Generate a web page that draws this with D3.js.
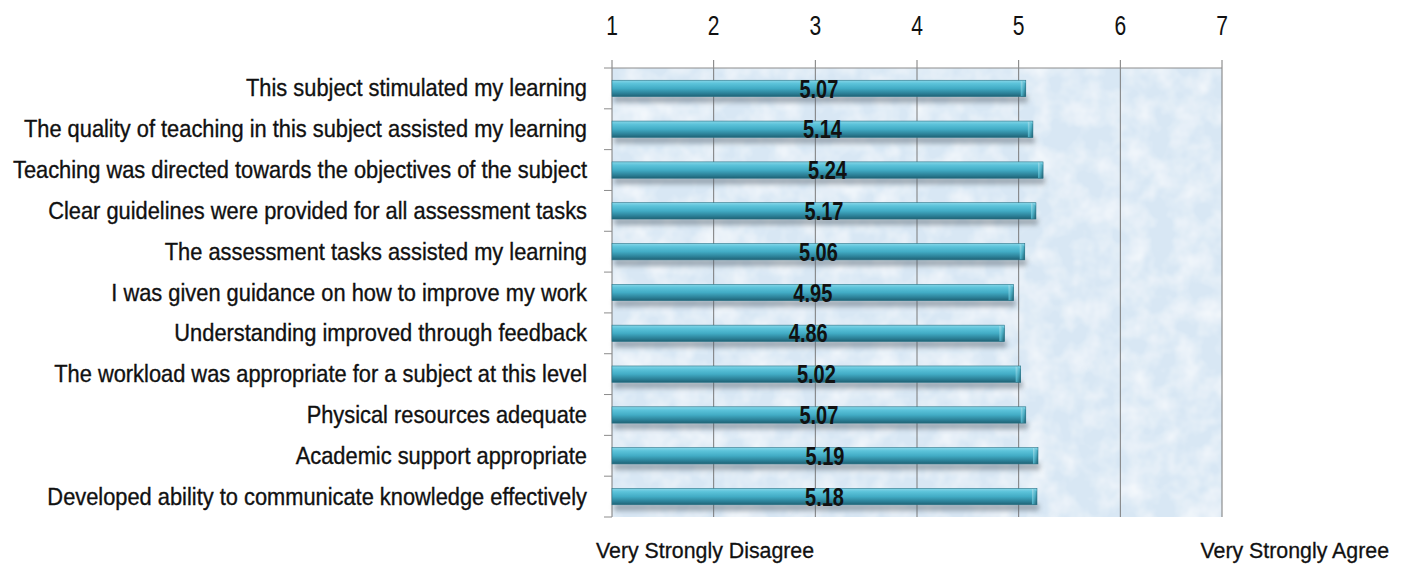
<!DOCTYPE html>
<html><head><meta charset="utf-8">
<script src="https://cdn.jsdelivr.net/npm/d3@7"></script>
<style>
body{margin:0;background:#fff;}
svg{display:block;}
text{font-family:"Liberation Sans Narrow","Arial Narrow","Liberation Sans",sans-serif;}
</style></head><body>
<svg id="c" width="1405" height="566"></svg>
<script>
const categories = [
  "This subject stimulated my learning",
  "The quality of teaching in this subject assisted my learning",
  "Teaching was directed towards the objectives of the subject",
  "Clear guidelines were provided for all assessment tasks",
  "The assessment tasks assisted my learning",
  "I was given guidance on how to improve my work",
  "Understanding improved through feedback",
  "The workload was appropriate for a subject at this level",
  "Physical resources adequate",
  "Academic support appropriate",
  "Developed ability to communicate knowledge effectively"
];
const values = [5.07, 5.14, 5.24, 5.17, 5.06, 4.95, 4.86, 5.02, 5.07, 5.19, 5.18];
const tickValues = [1, 2, 3, 4, 5, 6, 7];
const endLabels = ["Very Strongly Disagree", "Very Strongly Agree"];

const svg = d3.select("#c");
const L = 612, R = 1222, T = 68, B = 517;
const x = d3.scaleLinear().domain([1, 7]).range([L, R]);
const y = d3.scaleBand().domain(categories).range([T, B]).paddingInner(0.6).paddingOuter(0.3);

const defs = svg.append("defs");
const f = defs.append("filter").attr("id","tex").attr("x",0).attr("y",0).attr("width","100%").attr("height","100%");
f.append("feTurbulence").attr("type","fractalNoise").attr("baseFrequency","0.04").attr("numOctaves",3).attr("seed",4).attr("result","n");
f.append("feColorMatrix").attr("in","n").attr("type","matrix")
 .attr("values","0 0 0 0 1  0 0 0 0 1  0 0 0 0 1  1.2 0 0 0 -0.42").attr("result","w");
f.append("feComposite").attr("in","w").attr("in2","SourceGraphic").attr("operator","atop");

const g = defs.append("linearGradient").attr("id","bar").attr("x1",0).attr("y1",0).attr("x2",0).attr("y2",1);
[[0,"#86d6e8"],[0.2,"#5cc3da"],[0.5,"#42acc5"],[0.8,"#2c8198"],[1,"#1f6275"]].forEach(d=>g.append("stop").attr("offset",d[0]).attr("stop-color",d[1]));
const ge = defs.append("linearGradient").attr("id","bend").attr("x1",0).attr("y1",0).attr("x2",1).attr("y2",1);
[[0,"#a6e2ef"],[0.5,"#4fb2c8"],[1,"#1c5a6b"]].forEach(d=>ge.append("stop").attr("offset",d[0]).attr("stop-color",d[1]));
const sh = defs.append("filter").attr("id","sh").attr("x","-5%").attr("y","-50%").attr("width","110%").attr("height","250%");
sh.append("feGaussianBlur").attr("stdDeviation",2.5);

svg.append("rect").attr("x",L).attr("y",T).attr("width",R-L).attr("height",B-T).attr("fill","#d8e7f4").attr("filter","url(#tex)");

svg.append("g").selectAll("line").data(tickValues).join("line")
  .attr("x1",d=>x(d)).attr("x2",d=>x(d)).attr("y1",T-8).attr("y2",B)
  .attr("stroke","#7a7a7a").attr("stroke-width",1);
svg.append("line").attr("x1",L-8).attr("x2",R).attr("y1",T).attr("y2",T).attr("stroke","#8c8c8c");

const bounds = d3.range(1, categories.length+1).map(i=>T+(B-T)*i/categories.length);
svg.append("g").selectAll("line").data(bounds).join("line")
  .attr("x1",L-8).attr("x2",L).attr("y1",d=>d).attr("y2",d=>d).attr("stroke","#8c8c8c");

svg.append("g").selectAll("text").data(tickValues).join("text")
  .attr("transform",d=>`translate(${x(d)},35) scale(0.78,1)`).attr("text-anchor","middle")
  .attr("font-size",27).attr("fill","#111").text(d=>d);

const bh = y.bandwidth();
const bars = svg.append("g").selectAll("g").data(categories).join("g");
bars.append("rect").attr("x",L+2).attr("y",d=>y(d)+bh-1).attr("width",(d,i)=>x(values[i])-L).attr("height",7)
  .attr("fill","#56636e").attr("opacity",0.5).attr("filter","url(#sh)");
bars.append("rect").attr("x",L).attr("y",d=>y(d)).attr("width",(d,i)=>x(values[i])-L).attr("height",bh)
  .attr("fill","url(#bar)");
bars.append("path").attr("d",(d,i)=>{
  const xe=x(values[i]), y0=y(d);
  return `M${xe-5},${y0}L${xe},${y0+3}L${xe},${y0+bh}L${xe-5},${y0+bh}Z`;
}).attr("fill","url(#bend)");
bars.append("rect").attr("x",L).attr("y",d=>y(d)).attr("width",(d,i)=>x(values[i])-L).attr("height",bh)
  .attr("fill","none").attr("stroke","#2a7387").attr("stroke-width",0.6);

bars.append("text")
  .attr("transform",(d,i)=>`translate(${(L+x(values[i]))/2},${y(d)+bh+1}) scale(0.8,1)`)
  .attr("text-anchor","middle").attr("font-size",25).attr("font-weight","bold").attr("fill","#111")
  .text((d,i)=>values[i].toFixed(2));

svg.append("g").selectAll("text").data(categories).join("text")
  .attr("transform",d=>`translate(587,${y(d)+bh/2+8}) scale(0.91,1)`).attr("text-anchor","end")
  .attr("font-size",24).attr("fill","#111").attr("stroke","#111").attr("stroke-width",0.35).text(d=>d);

svg.append("text").attr("transform","translate(596,558) scale(0.97,1)").attr("font-size",22).attr("fill","#111").attr("stroke","#111").attr("stroke-width",0.3).text(endLabels[0]);
svg.append("text").attr("transform","translate(1389,558) scale(0.97,1)").attr("text-anchor","end").attr("font-size",22).attr("fill","#111").attr("stroke","#111").attr("stroke-width",0.3).text(endLabels[1]);
</script>
</body></html>
